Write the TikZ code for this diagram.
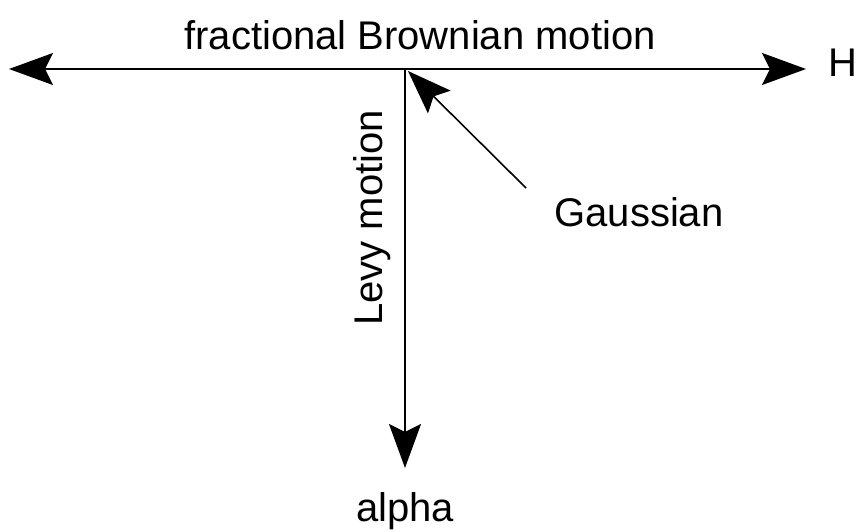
\documentclass[tikz,border=0pt]{standalone}
\usepackage{fontspec}
\setmainfont{Liberation Sans}
\usetikzlibrary{arrows.meta,positioning}

\begin{document}
\begin{tikzpicture}[x=1pt,y=-1pt,
  font=\fontsize{40}{46}\selectfont, line width=1.6pt,
  >={Stealth[length=44pt,width=32pt,inset=8pt]},
  lbl/.style={inner sep=0pt}
]
\useasboundingbox (0,0) rectangle (856,532);
% axes
\coordinate (o) at (405,69);
\coordinate (lft) at (9,69);
\coordinate (rgt) at (806,69);
\coordinate (bot) at (405,468);
\node[lbl,anchor=west] (H) at (828,63) {H};
\node[lbl] (fbm) at (420,35) {fractional Brownian motion};
\node[lbl] (alpha) at (405,511) {alpha};
\node[lbl,rotate=90] (levy) at (372,218) {Levy motion};
\node[lbl] (gauss) at (639,212) {Gaussian};
\coordinate (gtail) at (526,188);
\coordinate (gtip) at (408,71);
\draw[->] (o) -- (lft);
\draw[->] (o) -- (rgt);
\draw[->] (o) -- (bot);
\draw[->] (gtail) -- (gtip);
\end{tikzpicture}
\end{document}
